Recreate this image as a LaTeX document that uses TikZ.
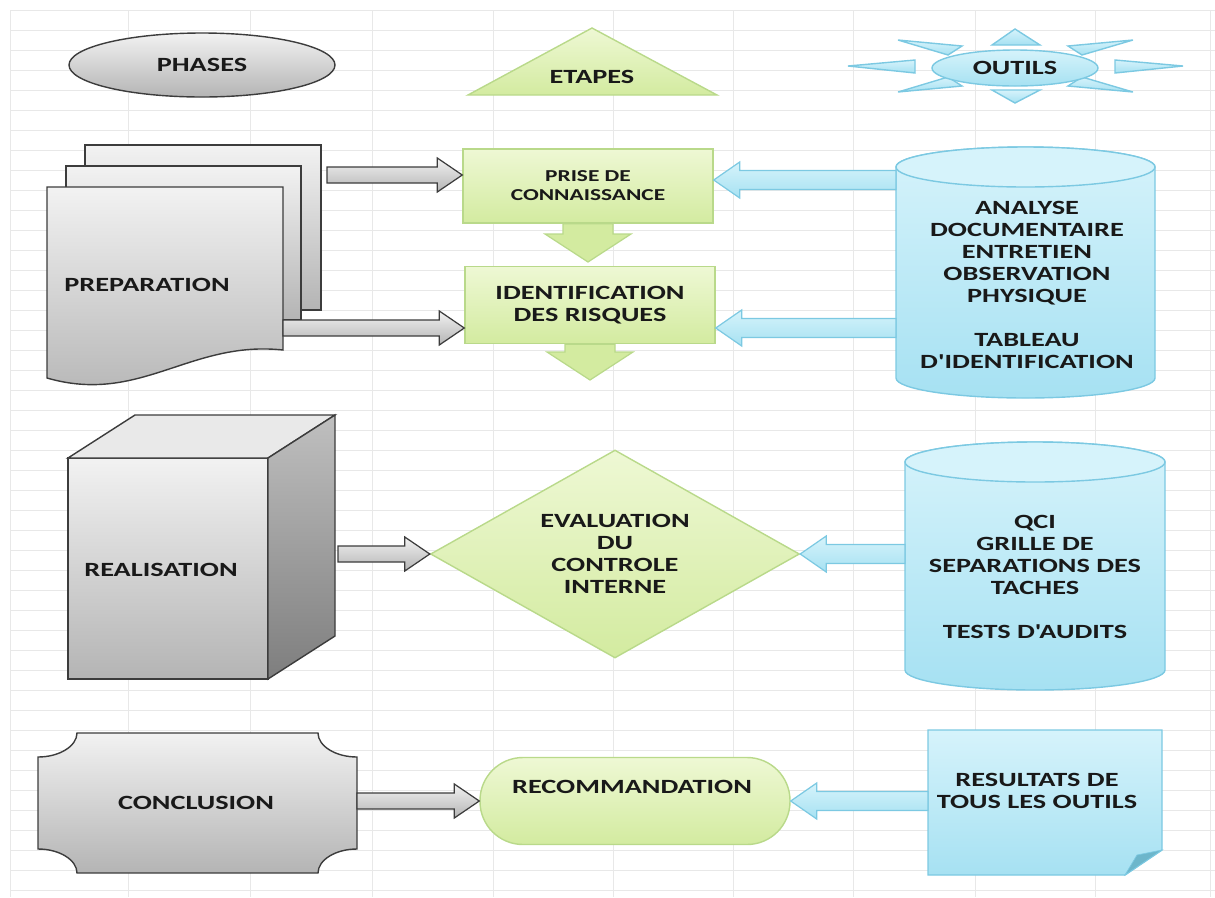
\documentclass[tikz,border=0pt]{standalone}
\usepackage{fontspec}
\newfontfamily\lblfont{Carlito}[FakeStretch=1.4]
\usetikzlibrary{calc,shapes.geometric}

\definecolor{gridc}{HTML}{E8E8E8}
\definecolor{greyln}{HTML}{3C3C3C}
\definecolor{greytop}{HTML}{F2F2F2}
\definecolor{greybot}{HTML}{B4B4B4}
\definecolor{greenln}{HTML}{B9D98A}
\definecolor{greentop}{HTML}{EEF8D4}
\definecolor{greenbot}{HTML}{D3EBA0}
\definecolor{blueln}{HTML}{7CC9E2}
\definecolor{bluetop}{HTML}{D6F3FB}
\definecolor{bluebot}{HTML}{A6E1F2}
\definecolor{bluedark}{HTML}{6DB6CB}

% horizontal block arrow: style, tail, tip, head length (signed), half body, half head
\newcommand{\hblock}[6]{%
  \draw[#1] ($(#2 |- #3)+(0,-#5)$) -- ($(#3)-(#4,#5)$) -- ($(#3)-(#4,#6)$) -- (#3)
    -- ($(#3)-(#4,-#6)$) -- ($(#3)-(#4,-#5)$) -- ($(#2 |- #3)+(0,#5)$) -- cycle;}
% downward block arrow: style, tail, tip, head length, half body, half head
\newcommand{\vblock}[6]{%
  \draw[#1] ($(#3 |- #2)+(-#5,0)$) -- ($(#3)-(#5,#4)$) -- ($(#3)-(#6,#4)$) -- (#3)
    -- ($(#3)-(-#6,#4)$) -- ($(#3)-(-#5,#4)$) -- ($(#3 |- #2)+(#5,0)$) -- cycle;}
% drum: style, centre x, top y, bottom y, half width
\newcommand{\drum}[5]{%
  \draw[#1] (#2-#5,#3) -- (#2-#5,#4) .. controls (#2-#5,#4+11) and (#2-0.55*#5,#4+20) .. (#2,#4+20)
    .. controls (#2+0.55*#5,#4+20) and (#2+#5,#4+11) .. (#2+#5,#4) -- (#2+#5,#3)
    .. controls (#2+#5,#3-11) and (#2+0.55*#5,#3-20) .. (#2,#3-20)
    .. controls (#2-0.55*#5,#3-20) and (#2-#5,#3-11) .. (#2-#5,#3) -- cycle;
  \draw[draw=blueln, line width=0.8pt, fill=bluetop] (#2,#3) ellipse [x radius=#5, y radius=20];}

\begin{document}
\begin{tikzpicture}[x=0.02cm, y=-0.02cm,
  px/.style 2 args={minimum width=#1*0.02cm, minimum height=#2*0.02cm},
  lbl/.style={font=\lblfont\bfseries\fontsize{11.5}{12.5}\selectfont, text=black!90, align=center, inner sep=0pt},
  small/.style={font=\lblfont\bfseries\fontsize{9.5}{10.8}\selectfont},
  greyshape/.style={draw=greyln, line width=0.8pt, top color=greytop, bottom color=greybot},
  greenshape/.style={draw=greenln, line width=0.8pt, top color=greentop, bottom color=greenbot},
  blueshape/.style={draw=blueln, line width=0.8pt, top color=bluetop, bottom color=bluebot},
  greyarrow/.style={draw=greyln, line width=0.7pt, top color=greytop, bottom color=greybot},
  bluearrow/.style={draw=blueln, line width=0.7pt, top color=bluetop, bottom color=bluebot},
  greenarrow/.style={draw=greenln, line width=0.7pt, fill=greenbot}]
\useasboundingbox (0,0) rectangle (1215,897);

% sheet grid
\foreach \gx in {10,128,250,372,493,613,733,853,975,1095,1210}
  \draw[gridc] (\gx,10) -- (\gx,897);
\foreach \gy in {10,30,...,890}
  \draw[gridc] (10,\gy) -- (1215,\gy);

% headers
\node[ellipse, greyshape, px={266}{64}, lbl] (phases) at (202,65) {PHASES};
\draw[greenshape] (592,28) -- (717,95) -- (468,95) -- cycle;
\node[lbl] (etapes) at (592,77) {ETAPES};
\foreach \a/\b/\c in {{1015,29}/{992,45}/{1040,45}, {1015,103}/{992,90}/{1040,90},
    {848,66}/{915,60}/{915,73}, {1183,66}/{1115,60}/{1115,73},
    {898,40}/{962,46}/{948,55}, {1133,40}/{1068,46}/{1082,55},
    {898,92}/{962,86}/{948,77}, {1133,92}/{1068,86}/{1082,77}}
  \draw[blueshape] (\a) -- (\b) -- (\c) -- cycle;
\node[ellipse, blueshape, px={166}{36}, lbl] (outils) at (1015,68) {OUTILS};

% preparation
\draw[greyshape] (85,145) rectangle (321,310);
\draw[greyshape] (66,166) rectangle (301,320);
\draw[greyshape] (47,187) -- (283,187) -- (283,350) .. controls (190,340) and (140,405) .. (47,378) -- cycle;
\node[lbl] (prep) at (147,285) {PREPARATION};
\coordinate (prep-a) at (327,175);
\coordinate (prep-b) at (283,328);

\node[rectangle, greenshape, px={250}{74}, lbl, small] (prise) at (588,186) {PRISE DE\\CONNAISSANCE};
\node[rectangle, greenshape, px={250}{77}, lbl] (ident) at (590,305) {IDENTIFICATION\\DES RISQUES};
\coordinate (dn1) at (588,262);
\coordinate (dn2) at (590,380);

\drum{blueshape}{1025.5}{167}{378}{129.5}
\node[lbl] (cyl1) at (1027,285) {ANALYSE\\DOCUMENTAIRE\\ENTRETIEN\\OBSERVATION\\PHYSIQUE\\[12.5pt]TABLEAU\\D'IDENTIFICATION};
\coordinate (cyl1-a) at (896,180);
\coordinate (cyl1-b) at (896,328);

% realisation
\draw[greyshape] (68,458) rectangle (268,679);
\draw[draw=greyln, line width=0.8pt, fill=greytop!85!greybot] (68,458) -- (135,415) -- (335,415) -- (268,458) -- cycle;
\draw[draw=greyln, line width=0.8pt, top color=greybot!85, bottom color=greybot!70!black] (268,458) -- (335,415) -- (335,636) -- (268,679) -- cycle;
\node[lbl] (real) at (161,570) {REALISATION};
\coordinate (cube-r) at (338,556);

\node[diamond, greenshape, px={369}{208}, aspect=1.77, lbl] (eval) at (615,554) {EVALUATION\\DU\\CONTROLE\\INTERNE};

\drum{blueshape}{1035}{462}{670}{130}
\node[lbl] (cyl2) at (1035,577) {QCI\\GRILLE DE\\SEPARATIONS DES\\TACHES\\[12.5pt]TESTS D'AUDITS};
\coordinate (cyl2-l) at (905,558);

% conclusion
\draw[greyshape] (77,733) -- (318,733) .. controls (318,746) and (335.5,757) .. (357,757) -- (357,849)
  .. controls (335.5,849) and (318,860) .. (318,873) -- (77,873)
  .. controls (77,860) and (59.5,849) .. (38,849) -- (38,757)
  .. controls (59.5,757) and (77,746) .. (77,733) -- cycle;
\node[lbl] (concl) at (196,803) {CONCLUSION};
\coordinate (concl-r) at (357,806);

\node[rectangle, rounded corners=0.86cm, greenshape, px={310}{87}] (rec) at (635,801) {};
\node[lbl] (rec-txt) at (632,787) {RECOMMANDATION};

\draw[blueshape] (928,730) -- (1162,730) -- (1162,850) -- (1125,875) -- (928,875) -- cycle;
\draw[draw=blueln, fill=bluedark] (1162,850) -- (1137,855) -- (1125,875) -- cycle;
\node[lbl] (res) at (1037,791) {RESULTATS DE\\TOUS LES OUTILS};
\coordinate (res-l) at (928,806);

% arrows
\coordinate (prise-l) at (prise.west |- prep-a);
\coordinate (prise-r) at (prise.east |- cyl1-a);
\coordinate (ident-l) at (ident.west |- prep-b);
\coordinate (ident-r) at (ident.east |- cyl1-b);
\hblock{greyarrow}{prep-a}{prise-l}{25}{8}{17}
\hblock{greyarrow}{prep-b}{ident-l}{25}{8}{17}
\hblock{greyarrow}{cube-r}{eval.west}{25}{8}{17}
\hblock{greyarrow}{concl-r}{rec.west}{25}{8}{17}
\hblock{bluearrow}{cyl1-a}{prise-r}{-26}{9.5}{18}
\hblock{bluearrow}{cyl1-b}{ident-r}{-26}{9.5}{18}
\hblock{bluearrow}{cyl2-l}{eval.east}{-26}{9.5}{18}
\hblock{bluearrow}{res-l}{rec.east}{-26}{9.5}{18}
\vblock{greenarrow}{prise.south}{dn1}{28}{25}{43}
\vblock{greenarrow}{ident.south}{dn2}{28}{25}{43}
\end{tikzpicture}
\end{document}
